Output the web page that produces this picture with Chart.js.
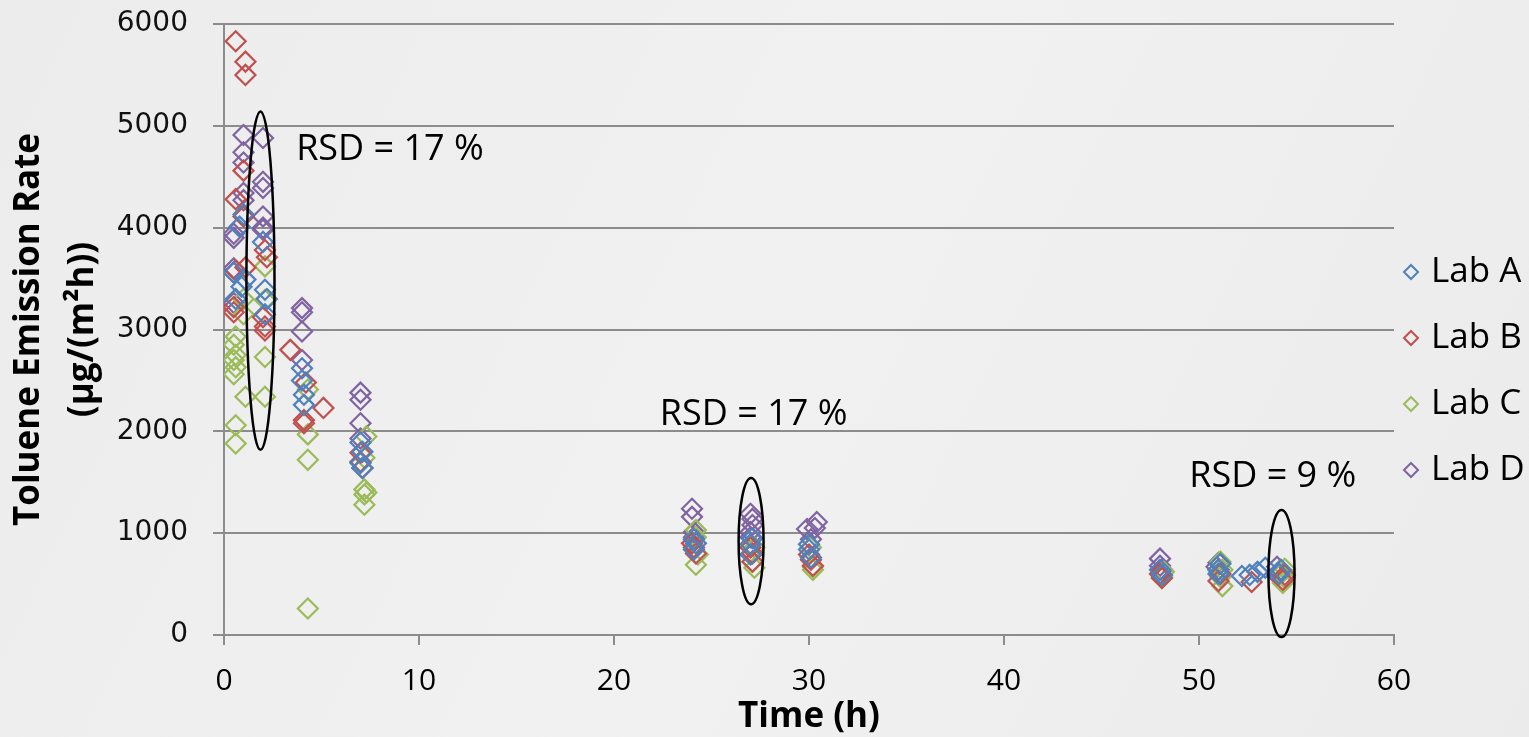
<!DOCTYPE html>
<html>
<head>
<meta charset="utf-8">
<title>Toluene Emission Rate</title>
<script src="https://cdn.jsdelivr.net/npm/chart.js@4/dist/chart.umd.min.js"></script>
<style>
  html, body { margin: 0; padding: 0; background: #eeeeee; }
  #wrap { width: 1529px; height: 737px; }
</style>
</head>
<body>
<div id="wrap"><canvas id="c" width="1529" height="737"></canvas></div>
<script>
// Emission rate measurements per laboratory: time (h) and rate (µg/(m²h))
const labA_t = [0.5, 0.6, 0.8, 1.0, 1.1, 0.9, 2.0, 2.1, 2.2, 2.1, 4.0, 4.0, 4.1, 4.1, 7.0, 7.0, 7.1, 7.1,
                24.1, 24.1, 24.2, 27.0, 27.0, 27.1, 30.0, 30.0, 30.1, 48.1, 48.0, 51.0, 51.1, 51.0,
                52.2, 52.6, 53.0, 53.4, 54.1, 54.2];
const labA_v = [3560, 3300, 4010, 4130, 3490, 3420, 3860, 3390, 3300, 3150, 2620, 2500, 2360, 2260, 1890, 1690, 1640, 1800,
                940, 840, 900, 890, 790, 950, 840, 890, 760, 590, 640, 640, 700, 600,
                580, 590, 620, 660, 600, 640];

const labB_t = [0.6, 1.1, 1.1, 1.0, 0.6, 1.0, 2.1, 2.2, 0.6, 1.1, 0.5, 2.0, 0.5, 2.1, 2.1,
                3.4, 4.2, 4.1, 4.1, 5.1, 7.0, 7.1, 7.0,
                24.0, 24.1, 24.2, 27.0, 27.1, 27.1, 30.1, 30.2, 30.0,
                48.1, 48.0, 51.0, 51.1, 52.7, 54.3, 54.4];
const labB_v = [5830, 5630, 5500, 4560, 4280, 4110, 3780, 3710, 3580, 3610, 3170, 3120, 3220, 3030, 2990,
                2800, 2480, 2110, 2080, 2230, 1790, 1640, 1700,
                900, 860, 800, 860, 800, 720, 740, 680, 790,
                560, 600, 530, 600, 520, 540, 590];

const labC_t = [0.6, 0.5, 0.6, 0.5, 0.6, 0.5, 1.1, 2.1, 2.1, 0.6, 0.6, 2.1, 1.0, 2.1, 1.0,
                4.3, 4.3, 4.3, 4.3, 7.3, 7.2, 7.2, 7.2, 7.2, 7.3,
                24.2, 24.2, 24.3, 24.2, 27.2, 27.1, 27.2, 30.1, 30.2, 30.2,
                48.1, 48.2, 48.1, 51.2, 51.1, 51.2, 51.1, 54.3, 54.4, 54.3, 54.4];
const labC_v = [2930, 2850, 2750, 2700, 2630, 2560, 2340, 2340, 2730, 2060, 1880, 3620, 3300, 3290, 3150,
                2410, 1970, 1720, 260, 1950, 1740, 1430, 1380, 1280, 1400,
                1030, 960, 790, 690, 860, 720, 660, 860, 670, 640,
                560, 620, 580, 480, 570, 640, 720, 510, 560, 620, 650];

const labD_t = [1.0, 2.0, 1.0, 1.0, 2.0, 2.0, 1.0, 1.0, 2.0, 2.0, 0.5, 0.5, 0.5, 0.5, 0.5, 2.0,
                4.0, 4.0, 4.0, 4.0, 7.0, 7.0, 7.0, 7.0,
                24.0, 24.0, 24.1, 24.1, 27.0, 27.1, 27.1, 27.0, 27.0, 30.4, 30.3, 29.9, 30.1,
                48.0, 48.0, 48.1, 51.0, 50.9, 51.0, 54.0, 54.1, 54.0];
const labD_v = [4910, 4880, 4740, 4640, 4450, 4390, 4340, 4270, 4110, 4000, 3900, 3940, 3560, 3600, 3260, 3980,
                3210, 3170, 2980, 2700, 2380, 2310, 2080, 1930,
                1240, 1160, 1010, 960, 1190, 1140, 1080, 1010, 960, 1110, 1050, 1040, 940,
                750, 680, 640, 710, 670, 640, 670, 620, 590];

const labNames = ['Lab A', 'Lab B', 'Lab C', 'Lab D'];
const labColors = ['#4F81BD', '#C0504D', '#9BBB59', '#8064A2'];

// Relative standard deviation callouts at three sampling times
const rsdValues = [17, 17, 9];
const rsdTextAt = [[3.7, 4770], [22.35, 2160], [49.5, 1550]];      // left edge / middle of text (data units)
const rsdEllipses = [[1.87, 3479, 0.72, 1661], [27.03, 922, 0.64, 620], [54.23, 604, 0.67, 624]]; // cx, cy, rx, ry

const xTicks = [0, 10, 20, 30, 40, 50, 60];
const yTicks = [0, 1000, 2000, 3000, 4000, 5000, 6000];

const toPoints = (t, v) => t.map((x, i) => ({x: x, y: v[i]}));
const series = [toPoints(labA_t, labA_v), toPoints(labB_t, labB_v), toPoints(labC_t, labC_v), toPoints(labD_t, labD_v)];

const bgPlugin = {
  id: 'bg',
  beforeDraw(chart) {
    const {ctx, width, height} = chart;
    ctx.save();
    const g = ctx.createLinearGradient(0, 0, width, height);
    g.addColorStop(0, '#ececec');
    g.addColorStop(0.5, '#f1f1f1');
    g.addColorStop(1, '#ebebeb');
    ctx.fillStyle = g;
    ctx.fillRect(0, 0, width, height);
    ctx.restore();
  }
};

const rsdPlugin = {
  id: 'rsd',
  afterDatasetsDraw(chart) {
    const {ctx, scales: {x, y}} = chart;
    ctx.save();
    ctx.strokeStyle = '#000';
    ctx.lineWidth = 2.5;
    rsdEllipses.forEach(([cx, cy, rx, ry]) => {
      const px = x.getPixelForValue(cx), py = y.getPixelForValue(cy);
      const prx = x.getPixelForValue(cx + rx) - px;
      const pry = py - y.getPixelForValue(cy + ry);
      ctx.beginPath();
      ctx.ellipse(px, py, prx, pry, 0, 0, Math.PI * 2);
      ctx.stroke();
    });
    ctx.fillStyle = '#000';
    ctx.font = '36px "Open Sans"';
    ctx.textAlign = 'left';
    ctx.textBaseline = 'middle';
    rsdValues.forEach((v, i) => {
      const [tx, ty] = rsdTextAt[i];
      ctx.fillText('RSD = ' + v + ' %', x.getPixelForValue(tx), y.getPixelForValue(ty));
    });
    ctx.restore();
  }
};

const legendPlugin = {
  id: 'sideLegend',
  afterDraw(chart) {
    const {ctx, chartArea} = chart;
    const step = 66;
    const midY = 371;
    const n = chart.data.datasets.length;
    ctx.save();
    chart.data.datasets.forEach((ds, i) => {
      const cy = midY + (i - (n - 1) / 2) * step;
      const cx = chartArea.right + 17;
      const r = 7;
      ctx.strokeStyle = ds.borderColor;
      ctx.lineWidth = 2;
      ctx.beginPath();
      ctx.moveTo(cx, cy - r); ctx.lineTo(cx + r, cy); ctx.lineTo(cx, cy + r); ctx.lineTo(cx - r, cy);
      ctx.closePath();
      ctx.stroke();
      ctx.fillStyle = '#000';
      ctx.font = '35px "Open Sans"';
      ctx.textAlign = 'left';
      ctx.textBaseline = 'middle';
      ctx.fillText(ds.label, chartArea.right + 37, cy);
    });
    ctx.restore();
  }
};

new Chart(document.getElementById('c'), {
  type: 'scatter',
  data: {
    datasets: series.map((pts, i) => ({
      label: labNames[i],
      data: pts,
      pointStyle: 'rectRot',
      pointRadius: 10,
      pointBorderWidth: 2.2,
      borderColor: labColors[i],
      backgroundColor: 'rgba(0,0,0,0)',
      showLine: false
    }))
  },
  options: {
    responsive: false,
    animation: false,
    devicePixelRatio: 1,
    events: [],
    layout: { padding: { top: 24, right: 135, left: 0, bottom: 0 } },
    plugins: {
      legend: { display: false },
      tooltip: { enabled: false }
    },
    scales: {
      x: {
        type: 'linear', min: 0, max: 60,
        afterBuildTicks: (s) => { s.ticks = xTicks.map(v => ({value: v})); },
        ticks: { font: { family: 'Open Sans', size: 30 }, color: '#000', padding: 18,
                 callback: (v) => String(v) },
        grid: { drawOnChartArea: false, color: '#8c8c8c', lineWidth: 2, tickLength: 10 },
        border: { color: '#8c8c8c', width: 2 },
        title: { display: true, text: 'Time (h)', color: '#000',
                 font: { family: 'Open Sans', size: 35, weight: 'bold', lineHeight: 1.0 },
                 padding: { top: 0, bottom: 2 } },
        afterFit: (s) => { s.height = 102; s.paddingLeft = 0; s.paddingRight = 0; }
      },
      y: {
        min: 0, max: 6000,
        afterBuildTicks: (s) => { s.ticks = yTicks.map(v => ({value: v})); },
        ticks: { font: { family: 'DejaVu Sans', size: 28 }, color: '#111', padding: 25,
                 callback: (v) => String(v) },
        grid: { color: '#8c8c8c', lineWidth: 2, tickLength: 11 },
        border: { color: '#8c8c8c', width: 2 },
        title: { display: true, text: ['Toluene Emission Rate', '(µg/(m²h))'], color: '#000',
                 font: { family: 'Open Sans', size: 35, weight: 'bold', lineHeight: 1.55 },
                 padding: { top: 2, bottom: 0 } },
        afterFit: (s) => { s.width = 224; s.paddingTop = 0; s.paddingBottom = 0; }
      }
    }
  },
  plugins: [bgPlugin, rsdPlugin, legendPlugin]
});
</script>
</body>
</html>
